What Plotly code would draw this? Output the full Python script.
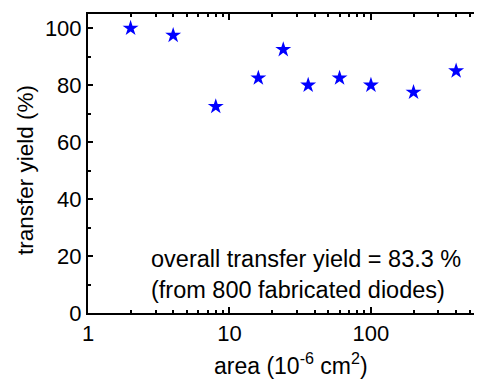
import plotly.graph_objects as go

area = [2, 4, 8, 16, 24, 36, 60, 100, 200, 400]
yield_pct = [100, 97.5, 72.5, 82.5, 92.5, 80, 82.5, 80, 77.5, 85]

x_major = [1, 10, 100]
x_minor = [m * d for d in (1, 10, 100) for m in range(2, 10)]
y_major = [0, 20, 40, 60, 80, 100]
y_minor = [10, 30, 50, 70, 90]

x_title = "area (10<sup>-6</sup> cm<sup>2</sup>)"
y_title = "transfer yield (%)"
note = "overall transfer yield = 83.3 %<br>(from 800 fabricated diodes)"

fig = go.Figure()
fig.add_trace(go.Scatter(
    x=area, y=yield_pct, mode="markers",
    marker=dict(symbol="star", size=12, color="#0000FF", line=dict(width=0)),
    showlegend=False,
))

# page body has an 8px default margin, so the figure is sized to compensate
font = "Liberation Sans, Arial, sans-serif"
fig.update_layout(
    width=474, height=371,
    margin=dict(l=80, r=0, t=6, b=66),
    paper_bgcolor="white", plot_bgcolor="white",
    font=dict(family=font, color="black", size=22),
    xaxis=dict(
        type="log", range=[0, 2.785], automargin=False,
        tickvals=x_major, ticktext=[str(v) for v in x_major],
        ticks="inside", ticklen=6, tickwidth=1.5, tickcolor="black",
        minor=dict(tickvals=x_minor, ticks="inside", ticklen=3, tickwidth=1.5, tickcolor="black"),
        showline=True, linecolor="black", linewidth=2, mirror="ticks",
        showgrid=False, zeroline=False,
        tickfont=dict(size=22),
    ),
    yaxis=dict(
        range=[0, 105], automargin=False,
        tickvals=y_major,
        ticks="inside", ticklen=5, tickwidth=1.5, tickcolor="black",
        minor=dict(tickvals=y_minor, ticks="inside", ticklen=3, tickwidth=1.5, tickcolor="black"),
        showline=True, linecolor="black", linewidth=2, mirror=False,
        showgrid=False, zeroline=False,
        tickfont=dict(size=22),
    ),
    annotations=[
        dict(text=note, xref="paper", yref="paper", x=0.155, y=0.13,
             xanchor="left", yanchor="middle", align="left", showarrow=False,
             font=dict(size=23.5, family=font, color="black")),
        dict(text=x_title, xref="paper", yref="paper", x=0.514, y=0, yshift=-51,
             xanchor="center", yanchor="middle", showarrow=False,
             font=dict(size=23, family=font, color="black")),
        dict(text=y_title, xref="paper", yref="paper", x=0, xshift=-63, y=0.478,
             xanchor="center", yanchor="middle", textangle=-90, showarrow=False,
             font=dict(size=22.5, family=font, color="black")),
    ],
)

fig.write_html("out.html")
